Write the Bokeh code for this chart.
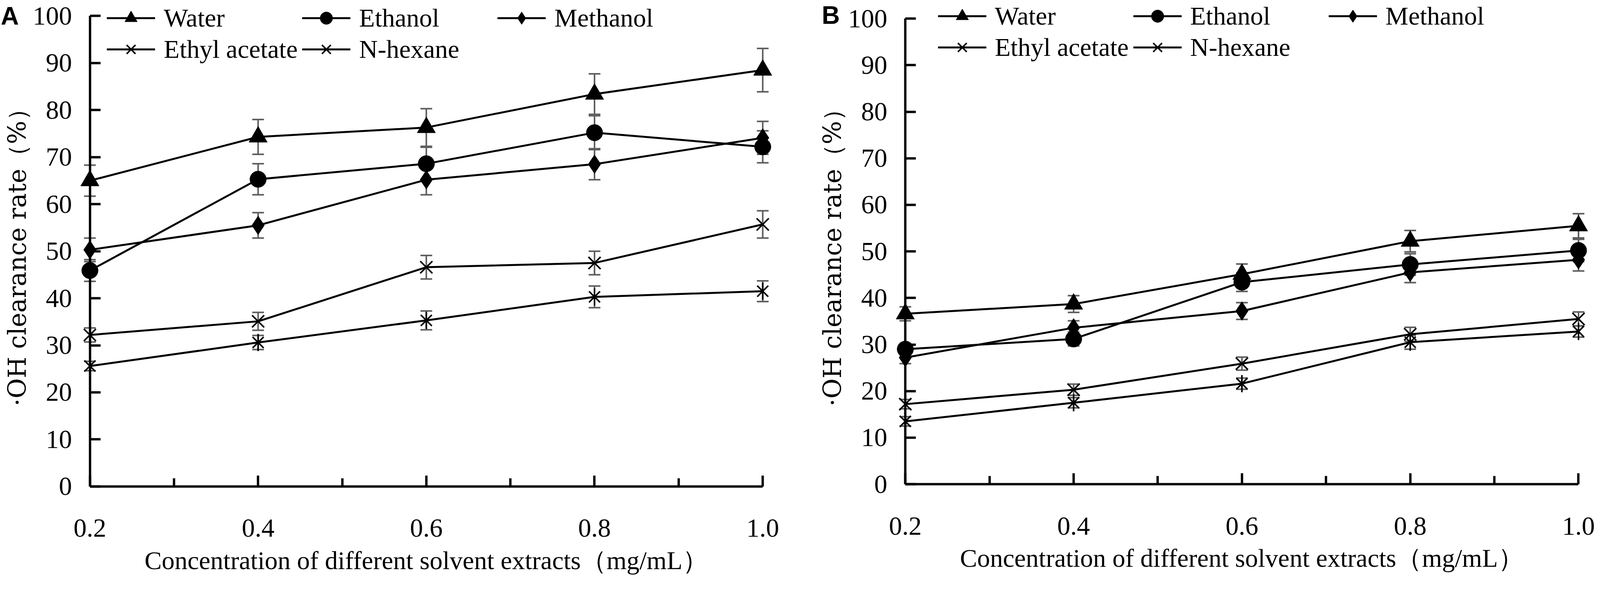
import math
from bokeh.plotting import figure
from bokeh.models import (ColumnDataSource, Whisker, TeeHead, Legend, LegendItem,
                          FixedTicker, Label, Range1d)
from bokeh.layouts import row
from bokeh.embed import file_html
from bokeh.resources import INLINE

# ---------------- data ----------------
conc = [0.2, 0.4, 0.6, 0.8, 1.0]
x_tick_labels = ["0.2", "0.4", "0.6", "0.8", "1.0"]
x_minor = [0.3, 0.5, 0.7, 0.9]
y_ticks = [0, 10, 20, 30, 40, 50, 60, 70, 80, 90, 100]
series_names = ["Water", "Ethanol", "Methanol", "Ethyl acetate", "N-hexane"]

# Panel A
water_a = [65.0, 74.3, 76.3, 83.4, 88.5]
water_a_err = [3.3, 3.7, 4.0, 4.3, 4.6]
ethanol_a = [45.9, 65.3, 68.6, 75.2, 72.2]
ethanol_a_err = [2.3, 3.3, 3.5, 3.6, 3.4]
methanol_a = [50.3, 55.5, 65.2, 68.5, 74.1]
methanol_a_err = [2.5, 2.7, 3.2, 3.3, 3.5]
ethyl_a = [32.2, 35.1, 46.6, 47.5, 55.7]
ethyl_a_err = [1.5, 1.9, 2.5, 2.5, 2.9]
hexane_a = [25.6, 30.6, 35.3, 40.3, 41.5]
hexane_a_err = [1.0, 1.5, 2.0, 2.3, 2.2]

# Panel B
water_b = [36.6, 38.7, 45.1, 52.2, 55.5]
water_b_err = [1.5, 1.8, 2.2, 2.3, 2.6]
ethanol_b = [29.0, 31.2, 43.4, 47.2, 50.2]
ethanol_b_err = [1.2, 1.5, 2.0, 2.3, 2.4]
methanol_b = [27.2, 33.6, 37.2, 45.5, 48.2]
methanol_b_err = [1.3, 1.5, 1.8, 2.2, 2.4]
ethyl_b = [17.2, 20.3, 25.9, 32.2, 35.5]
ethyl_b_err = [1.0, 1.2, 1.4, 1.5, 1.5]
hexane_b = [13.5, 17.5, 21.6, 30.5, 32.8]
hexane_b_err = [1.0, 1.1, 1.2, 1.5, 1.2]

x_title = "Concentration of different solvent extracts（mg/mL）"
y_title = "·OH clearance rate（%）"

# ---------------- styling / layout ----------------
S = 1.052          # rendered pixels per CSS pixel (measured)
SERIF = "Liberation Serif"
ERR_COLOR = "#5e5e5e"
MARKERS = {
    "Water": [dict(marker="triangle", size=47, line_width=1)],
    "Ethanol": [dict(marker="circle", size=42, line_width=1)],
    "Methanol": [dict(marker="diamond", size=48, line_width=1)],
    "Ethyl acetate": [dict(marker="x", size=44, line_width=4)],
    "N-hexane": [dict(marker="x", size=40, line_width=4),
                 dict(marker="dash", size=44, line_width=4, angle=math.pi / 2)],
}
LEG_ITEM_H = 80
PAGE_Y0 = 8


def c(v):
    """image pixel -> CSS pixel"""
    return v / S


def make_panel(letter, values, errors, width, height, page_x0, px_02, px_10,
               py_0, py_100, legend_left, legend_row1, letter_left, letter_top):
    kx = (px_10 - px_02) / 0.8
    ky = (py_0 - py_100) / 100.0
    x_lo = 0.2 - (px_02 - page_x0) / kx
    x_hi = 1.0 + (page_x0 + width - px_10) / kx
    y_hi = 100 + (py_100 - PAGE_Y0) / ky
    y_lo = -(PAGE_Y0 + height - py_0) / ky

    p = figure(width=width, height=height,
               x_range=Range1d(x_lo, x_hi), y_range=Range1d(y_lo, y_hi),
               output_backend="svg", toolbar_location=None,
               min_border=0, min_border_left=0, min_border_right=0,
               min_border_top=0, min_border_bottom=0)
    p.outline_line_color = None
    p.xgrid.visible = False
    p.ygrid.visible = False
    p.background_fill_color = "white"
    p.border_fill_color = "white"

    items = []
    for name, ys, es in zip(series_names, values, errors):
        src = ColumnDataSource(dict(
            x=conc, y=ys,
            upper=[v + e for v, e in zip(ys, es)],
            lower=[v - e for v, e in zip(ys, es)]))
        w = Whisker(source=src, base="x", upper="upper", lower="lower",
                    line_color=ERR_COLOR, line_width=4,
                    upper_head=TeeHead(size=30, line_color=ERR_COLOR, line_width=4),
                    lower_head=TeeHead(size=30, line_color=ERR_COLOR, line_width=4))
        p.add_layout(w)
        ln = p.line("x", "y", source=src, line_color="black", line_width=5)
        rends = [ln]
        for spec in MARKERS[name]:
            r = p.scatter("x", "y", source=src, color="black", **spec)
            rends.append(r)
        items.append(LegendItem(label=name, renderers=rends))

    legend_h = 2 * LEG_ITEM_H
    legend_top_page = max(legend_row1 - LEG_ITEM_H / 2, PAGE_Y0 + 1)
    leg = Legend(items=items, orientation="horizontal", ncols=3,
                 location=(legend_left - page_x0,
                           (PAGE_Y0 + height) - legend_top_page - legend_h),
                 glyph_width=124, glyph_height=LEG_ITEM_H, label_height=LEG_ITEM_H,
                 label_width=354, label_standoff=22, spacing=0, padding=0, margin=0,
                 label_text_font=SERIF, label_text_font_size="66px",
                 label_text_color="black",
                 border_line_color=None, background_fill_alpha=0)
    p.add_layout(leg)

    # axes drawn inside the frame at fixed data locations
    xa = p.xaxis[0]
    xa.ticker = FixedTicker(ticks=conc, minor_ticks=x_minor)
    xa.major_label_overrides = dict(zip(conc, x_tick_labels))
    xa.bounds = (0.2, 1.0)
    xa.fixed_location = 0
    xa.axis_label = x_title
    ya = p.yaxis[0]
    ya.ticker = FixedTicker(ticks=y_ticks, minor_ticks=[])
    ya.bounds = (0, 100)
    ya.fixed_location = 0.2
    ya.axis_label = y_title

    for ax in (xa, ya):
        ax.axis_line_color = "black"
        ax.axis_line_width = 6
        ax.major_tick_line_color = "black"
        ax.major_tick_line_width = 6
        ax.major_tick_in = 28
        ax.major_tick_out = 0
        ax.minor_tick_line_color = "black"
        ax.minor_tick_line_width = 6
        ax.minor_tick_in = 21
        ax.minor_tick_out = 0
        ax.major_label_text_font = SERIF
        ax.major_label_text_font_size = "67px"
        ax.major_label_text_color = "black"
        ax.axis_label_text_color = "black"
        ax.axis_label_text_font_style = "normal"
    ya.major_tick_in = 27
    xa.major_label_standoff = 85
    xa.axis_label_text_font = SERIF
    xa.axis_label_text_font_size = "66px"
    xa.axis_label_standoff = 20
    ya.major_label_standoff = 46
    ya.axis_label_text_font = "DejaVu Serif"
    ya.axis_label_text_font_size = "63px"
    ya.axis_label_standoff = 0

    p.add_layout(Label(x=letter_left - page_x0, y=(PAGE_Y0 + height) - letter_top,
                       x_units="screen", y_units="screen",
                       text=letter, text_font="Liberation Sans", text_font_style="bold",
                       text_font_size="64px", text_color="black", text_baseline="top"))
    return p


H = 1487
A_X0 = 8
B_X0 = round(c(2190))
WA = B_X0 - A_X0
WB = 4100 - B_X0

pA = make_panel("A",
                [water_a, ethanol_a, methanol_a, ethyl_a, hexane_a],
                [water_a_err, ethanol_a_err, methanol_a_err, ethyl_a_err, hexane_a_err],
                width=WA, height=H, page_x0=A_X0,
                px_02=c(250), px_10=c(2062), py_0=c(1318), py_100=c(51),
                legend_left=c(296), legend_row1=c(57),
                letter_left=c(10), letter_top=12)
pB = make_panel("B",
                [water_b, ethanol_b, methanol_b, ethyl_b, hexane_b],
                [water_b_err, ethanol_b_err, methanol_b_err, ethyl_b_err, hexane_b_err],
                width=WB, height=H, page_x0=B_X0,
                px_02=c(2446), px_10=c(4259), py_0=c(1312), py_100=c(58),
                legend_left=c(2534), legend_row1=c(52),
                letter_left=c(2221), letter_top=10)

layout = row(pA, pB)
open("out.html", "w").write(file_html(layout, INLINE))
